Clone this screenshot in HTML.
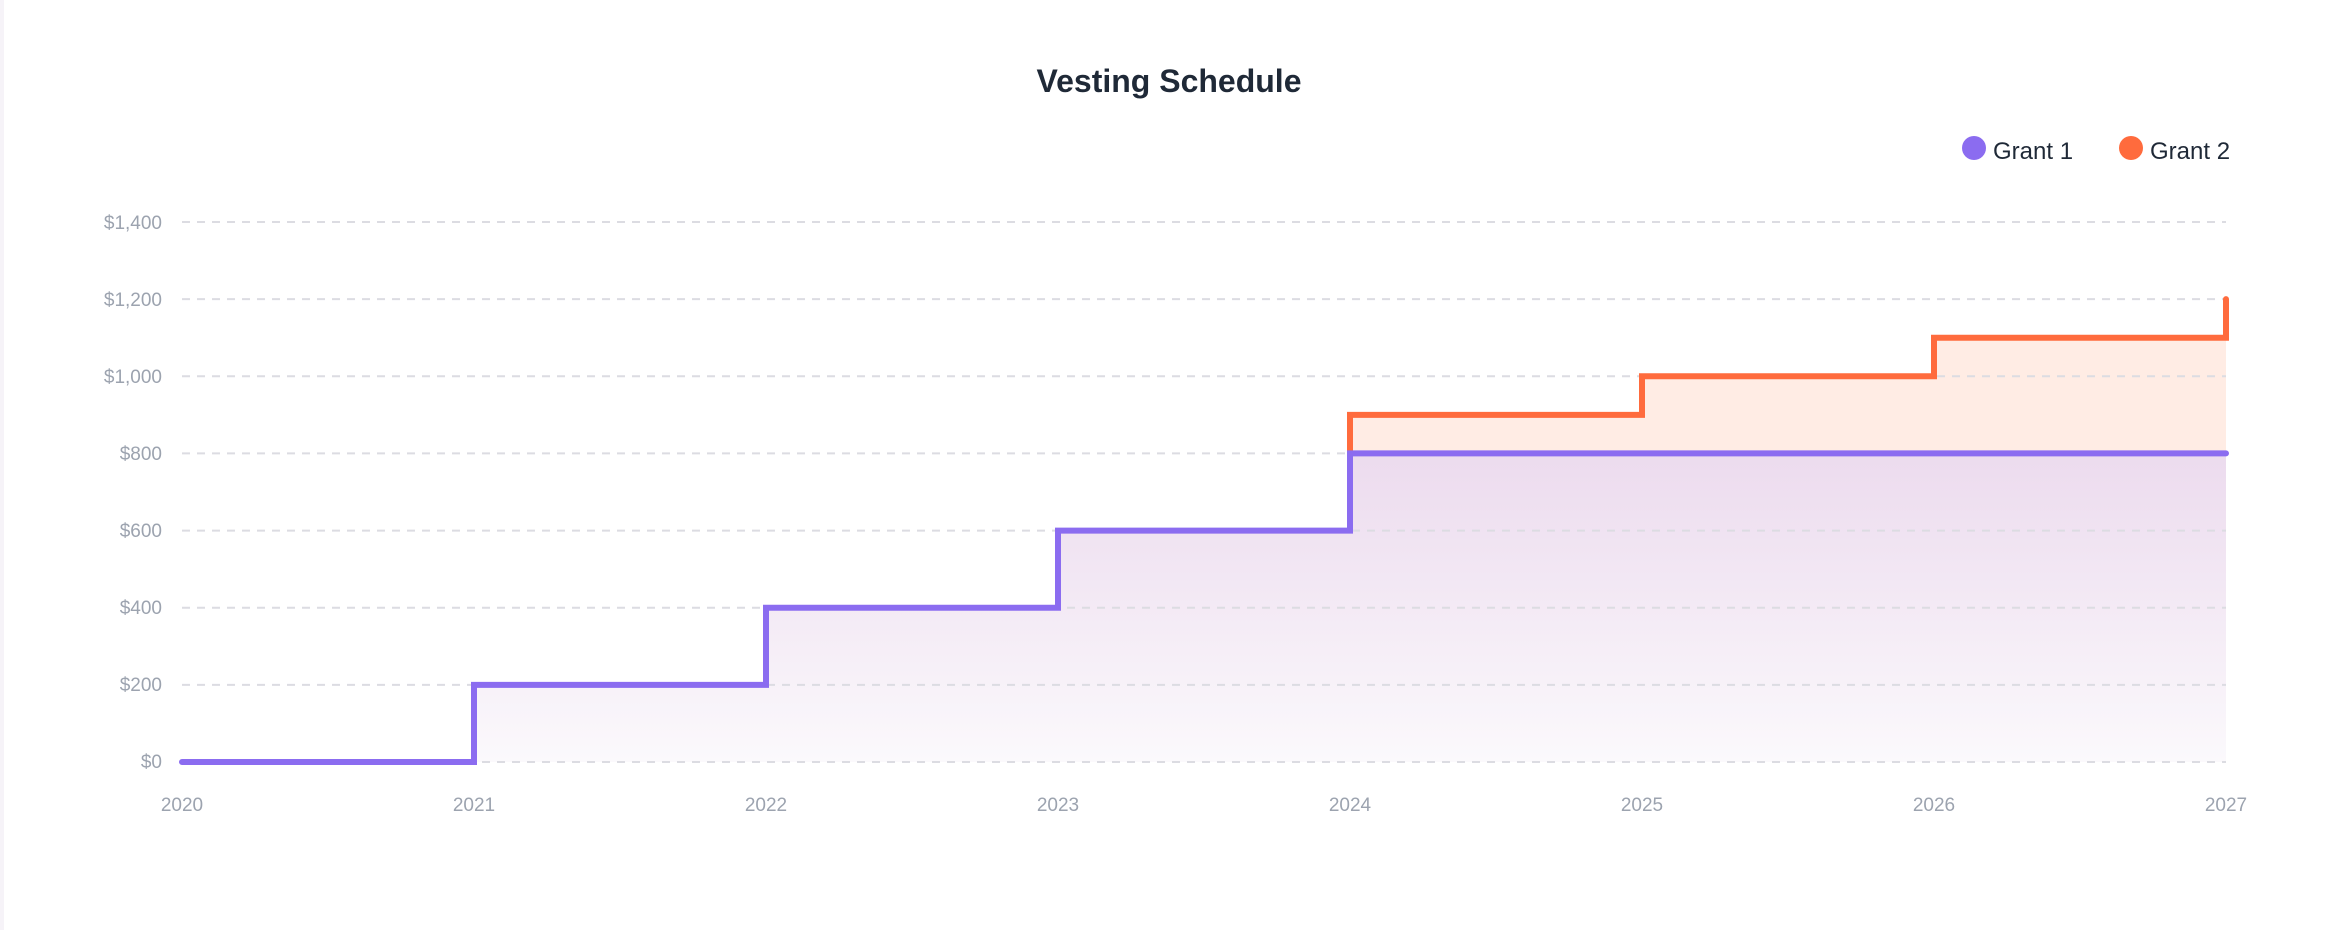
<!DOCTYPE html>
<html><head><meta charset="utf-8"><style>
html,body{margin:0;padding:0;background:#fff;width:2338px;height:930px;overflow:hidden}
</style></head><body>
<svg width="2338" height="930" viewBox="0 0 2338 930" xmlns="http://www.w3.org/2000/svg" font-family="'Liberation Sans', sans-serif">
<defs>
<linearGradient id="gp" x1="0" y1="453" x2="0" y2="762" gradientUnits="userSpaceOnUse">
<stop offset="0" stop-color="#ecdbee"/><stop offset="1" stop-color="#fbf9fc"/></linearGradient>
</defs>
<rect x="0" y="0" width="4" height="930" fill="#f6f3f8"/>
<text x="1169" y="92" text-anchor="middle" font-size="32" font-weight="bold" fill="#1f2937">Vesting Schedule</text>
<circle cx="1974" cy="148" r="12" fill="#8b6cf0"/>
<text x="1993" y="159" font-size="24" fill="#1f2937">Grant 1</text>
<circle cx="2131" cy="148" r="12" fill="#ff6b3d"/>
<text x="2150" y="159" font-size="24" fill="#1f2937">Grant 2</text>
<path d="M1350 453.4 V414.9 H1642 V376.3 H1934 V337.7 H2226 V453.4 Z" fill="#ffece4"/>
<path d="M182 762 H474 V684.9 H766 V607.7 H1058 V530.6 H1350 V453.4 H2226 V762 Z" fill="url(#gp)"/>
<g stroke="#dcdce2" stroke-width="2" stroke-dasharray="8,7">
<line x1="182" x2="2226" y1="222" y2="222"/><line x1="182" x2="2226" y1="299.1" y2="299.1"/>
<line x1="182" x2="2226" y1="376.3" y2="376.3"/><line x1="182" x2="2226" y1="453.4" y2="453.4"/>
<line x1="182" x2="2226" y1="530.6" y2="530.6"/><line x1="182" x2="2226" y1="607.7" y2="607.7"/>
<line x1="182" x2="2226" y1="684.9" y2="684.9"/><line x1="182" x2="2226" y1="762" y2="762"/>
</g>
<g font-size="19" fill="#9ca3af" text-anchor="end">
<text x="162" y="229">$1,400</text><text x="162" y="306">$1,200</text><text x="162" y="383">$1,000</text>
<text x="162" y="460">$800</text><text x="162" y="537">$600</text><text x="162" y="614">$400</text>
<text x="162" y="691">$200</text><text x="162" y="768">$0</text>
</g>
<g font-size="19" fill="#9ca3af" text-anchor="middle">
<text x="182" y="811">2020</text><text x="474" y="811">2021</text><text x="766" y="811">2022</text>
<text x="1058" y="811">2023</text><text x="1350" y="811">2024</text><text x="1642" y="811">2025</text>
<text x="1934" y="811">2026</text><text x="2226" y="811">2027</text>
</g>
<path d="M1350 453.4 V414.9 H1642 V376.3 H1934 V337.7 H2226 V299.1" fill="none" stroke="#ff6b3d" stroke-width="6" stroke-linecap="round"/>
<path d="M182 762 H474 V684.9 H766 V607.7 H1058 V530.6 H1350 V453.4 H2226" fill="none" stroke="#8b6cf0" stroke-width="6" stroke-linecap="round"/>
</svg>
</body></html>
